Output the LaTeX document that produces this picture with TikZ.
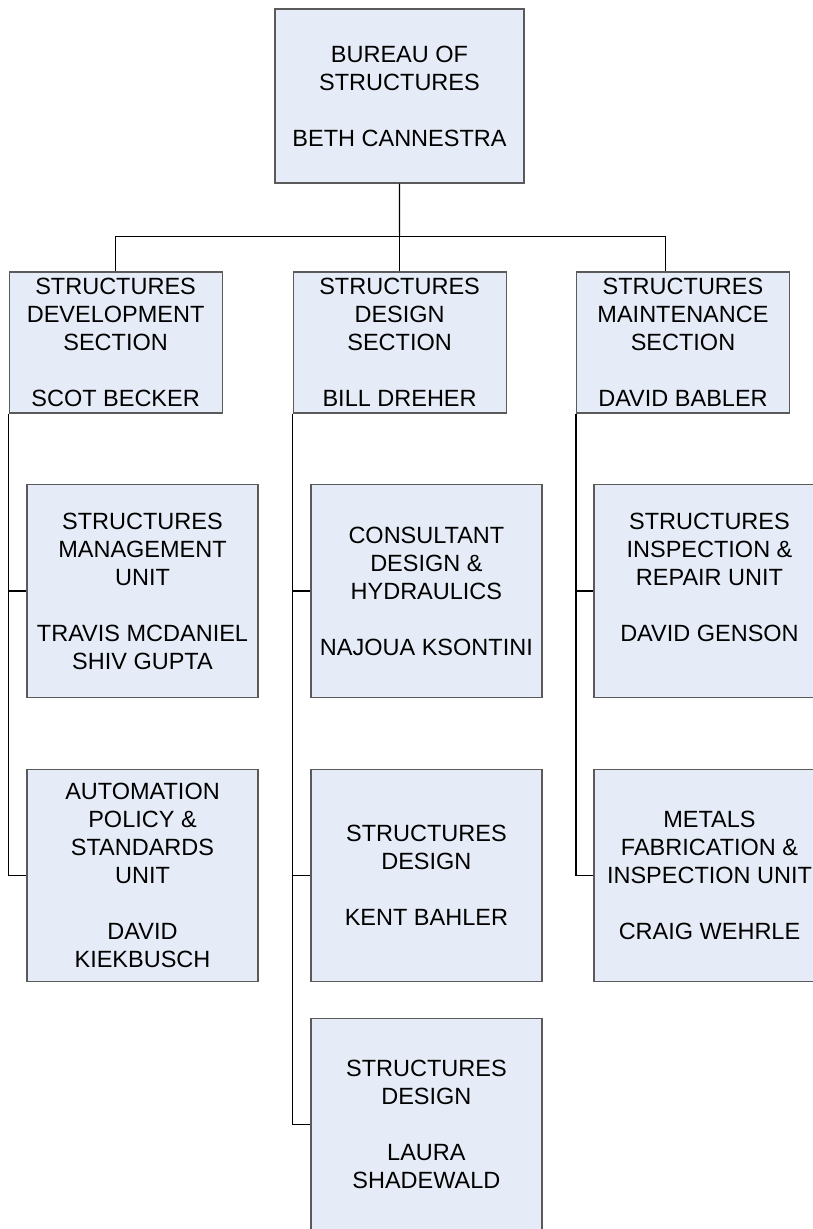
\documentclass[tikz,border=0pt]{standalone}
\usepackage{fontspec}
\setmainfont{Liberation Sans}
\definecolor{boxfill}{RGB}{230,236,247}
\definecolor{boxline}{RGB}{90,90,90}
\begin{document}
\begin{tikzpicture}[x=1pt,y=-1pt,
  orgbox/.style={draw=boxline, line width=1.2pt, fill=boxfill, align=center, inner sep=0pt,
    font=\fontsize{23.5}{28}\selectfont},
  topbox/.style={orgbox, minimum width=249pt, minimum height=174pt},
  secbox/.style={orgbox, minimum width=213pt, minimum height=141pt},
  unitbox/.style={orgbox, minimum width=231pt, minimum height=212.5pt},
  link/.style={draw=black, line width=1.2pt}]
\useasboundingbox (0,0) rectangle (813,1229);
\clip (0,0) rectangle (813,1229);

\node[topbox] (top) at (399.5,96) {BUREAU OF\\STRUCTURES\\[28pt]BETH CANNESTRA};

\node[secbox] (secL) at (115.6,342.5) {STRUCTURES\\DEVELOPMENT\\SECTION\\[28pt]SCOT BECKER};
\node[secbox] (secM) at (399.6,342.5) {STRUCTURES\\DESIGN\\SECTION\\[28pt]BILL DREHER};
\node[secbox] (secR) at (683,342.5) {STRUCTURES\\MAINTENANCE\\SECTION\\[28pt]DAVID BABLER};

\node[unitbox] (L1) at (142.5,591) {STRUCTURES\\MANAGEMENT\\UNIT\\[28pt]TRAVIS MCDANIEL\\SHIV GUPTA};
\node[unitbox] (L2) at (142.5,875.5) {AUTOMATION\\POLICY \&\\STANDARDS\\UNIT\\[28pt]DAVID\\KIEKBUSCH};

\node[unitbox] (M1) at (426.4,591) {CONSULTANT\\DESIGN \&\\HYDRAULICS\\[28pt]NAJOUA KSONTINI};
\node[unitbox] (M2) at (426.4,875.5) {STRUCTURES\\DESIGN\\[28pt]KENT BAHLER};
\node[unitbox] (M3) at (426.4,1124.5) {STRUCTURES\\DESIGN\\[28pt]LAURA\\SHADEWALD};

\node[unitbox] (R1) at (709.5,591) {STRUCTURES\\INSPECTION \&\\REPAIR UNIT\\[28pt]DAVID GENSON\\\mbox{}};
\node[unitbox] (R2) at (709.5,875.5) {METALS\\FABRICATION \&\\INSPECTION UNIT\\[28pt]CRAIG WEHRLE};

\coordinate (bus) at (399.6,236.7);
\coordinate (busR) at (665.7,236.7);
\draw[link] (top.south) -- (bus);
\draw[link] (bus) -| (secL.north);
\draw[link] (bus) -- (secM.north);
\draw[link] (bus) -- (busR) -- (busR |- secR.north);

\draw[link] (secL.south west) |- (L1.west);
\draw[link] (secL.south west) |- (L2.west);
\draw[link] (secM.south west) |- (M1.west);
\draw[link] (secM.south west) |- (M2.west);
\draw[link] (secM.south west) |- (M3.west);
\draw[link] (secR.south west) |- (R1.west);
\draw[link] (secR.south west) |- (R2.west);
\end{tikzpicture}
\end{document}
